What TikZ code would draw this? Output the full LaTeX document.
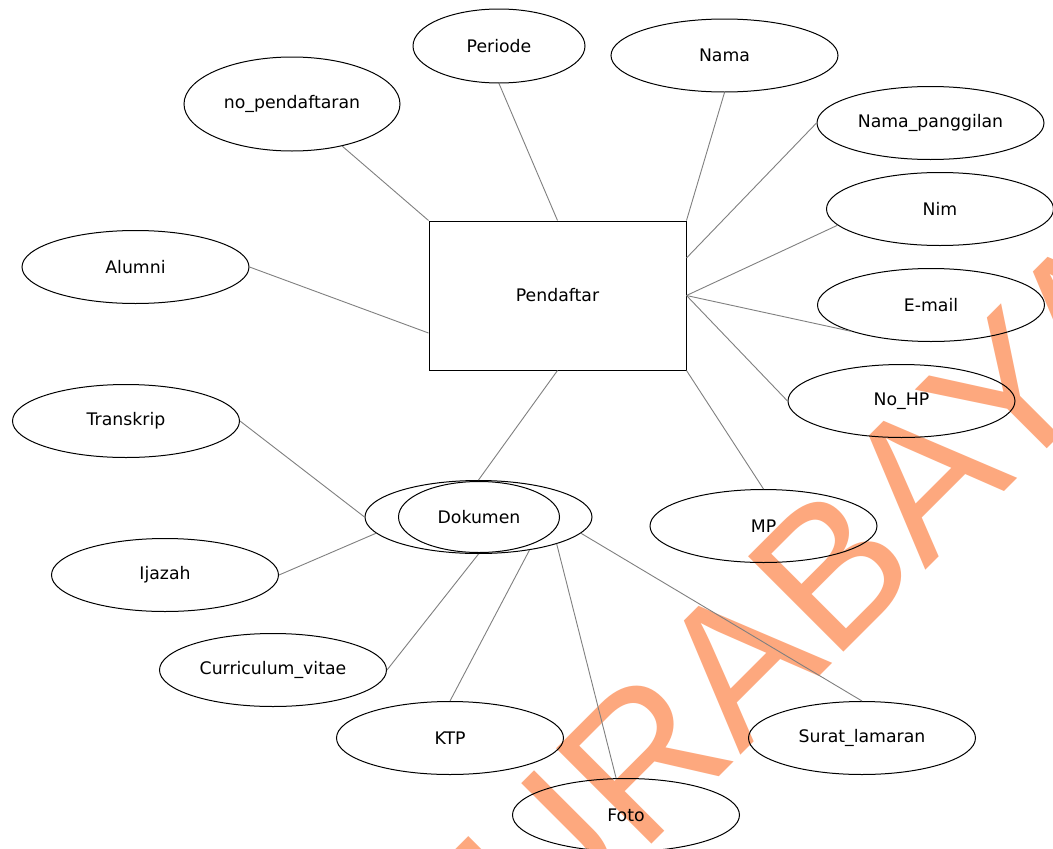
\documentclass[tikz,border=0pt]{standalone}
\usepackage{fontspec}
\setmainfont{DejaVu Sans}
\newfontfamily\wmfont{Liberation Sans}
\usetikzlibrary{shapes.geometric,calc}
\definecolor{wmcolor}{RGB}{253,168,126}
\definecolor{linkgray}{RGB}{128,128,128}
\tikzset{
  attr/.style={draw=black, line width=1pt, ellipse, inner sep=0pt,
    minimum width=227pt, minimum height=73pt,
    font=\fontsize{17.3}{20}\selectfont},
  entity/.style={draw=black, line width=1pt, rectangle, inner sep=0pt,
    minimum width=257pt, minimum height=149pt,
    font=\fontsize{17.3}{20}\selectfont},
  link/.style={draw=linkgray, line width=0.9pt}
}
\begin{document}
\begin{tikzpicture}[x=1pt,y=-1pt]
\useasboundingbox (0,0) rectangle (1053,849);
\clip (0,0) rectangle (1053,849);
\fill[white] (0,0) rectangle (1053,849);
% watermark
\node[rotate=45, anchor=base west, inner sep=0pt, text=wmcolor,
  font=\wmfont\fontsize{196}{200}\selectfont] (wm) at (640,856) {\llap{SU}RABAYA};
% entity
\node[entity] (P) at (557.5,295.5) {Pendaftar};
% attributes
\node[attr, minimum width=216pt, minimum height=94pt] (nop) at (292,104) {no\_pendaftaran};
\node[attr, minimum width=172pt, minimum height=74pt] (per) at (499,46) {Periode};
\node[attr] (nama) at (724.5,55.5) {Nama};
\node[attr] (nap) at (930.5,123) {Nama\_panggilan};
\node[attr] (nim) at (940,209) {Nim};
\node[attr] (mail) at (931,305) {E-mail};
\node[attr] (hp) at (901.5,401) {No\_HP};
\node[attr] (mp) at (763.5,526) {MP};
\node[attr] (alu) at (135.5,267) {Alumni};
\node[attr] (tr) at (126,421) {Transkrip};
\node[attr] (ij) at (165,575) {Ijazah};
\node[attr] (cv) at (273,670) {Curriculum\_vitae};
\node[attr] (ktp) at (450,738) {KTP};
\node[attr] (foto) at (626,815) {Foto};
\node[attr] (sl) at (862,738) {Surat\_lamaran};
% multivalued Dokumen
\node[attr] (dok) at (478.5,517) {};
\node[attr, minimum width=161pt, minimum height=71pt] (dokin) at (479,517) {Dokumen};
% connectors
\draw[link] (nop.320) -- (P.north west);
\draw[link] (per.south) -- (P.north);
\draw[link] (nama.south) -- (P.north east);
\draw[link] (nap.west) -- ($(P.north east)!0.25!(P.south east)$);
\draw[link] (nim.189.5) -- (P.east);
\draw[link] (mail.south west) -- (P.east);
\draw[link] (hp.west) -- (P.east);
\draw[link] (mp.north) -- (P.south east);
\draw[link] (alu.east) -- ($(P.north west)!0.75!(P.south west)$);
\draw[link] (dok.north) -- (P.south);
\draw[link] (tr.east) -- (dok.west);
\draw[link] (ij.east) -- (dok.189);
\draw[link] (cv.east) -- (dok.south);
\draw[link] (ktp.north) -- (dok.327);
\draw[link] (foto.105) -- (dok.341);
\draw[link] (sl.north) -- (dok.351);
\end{tikzpicture}
\end{document}
